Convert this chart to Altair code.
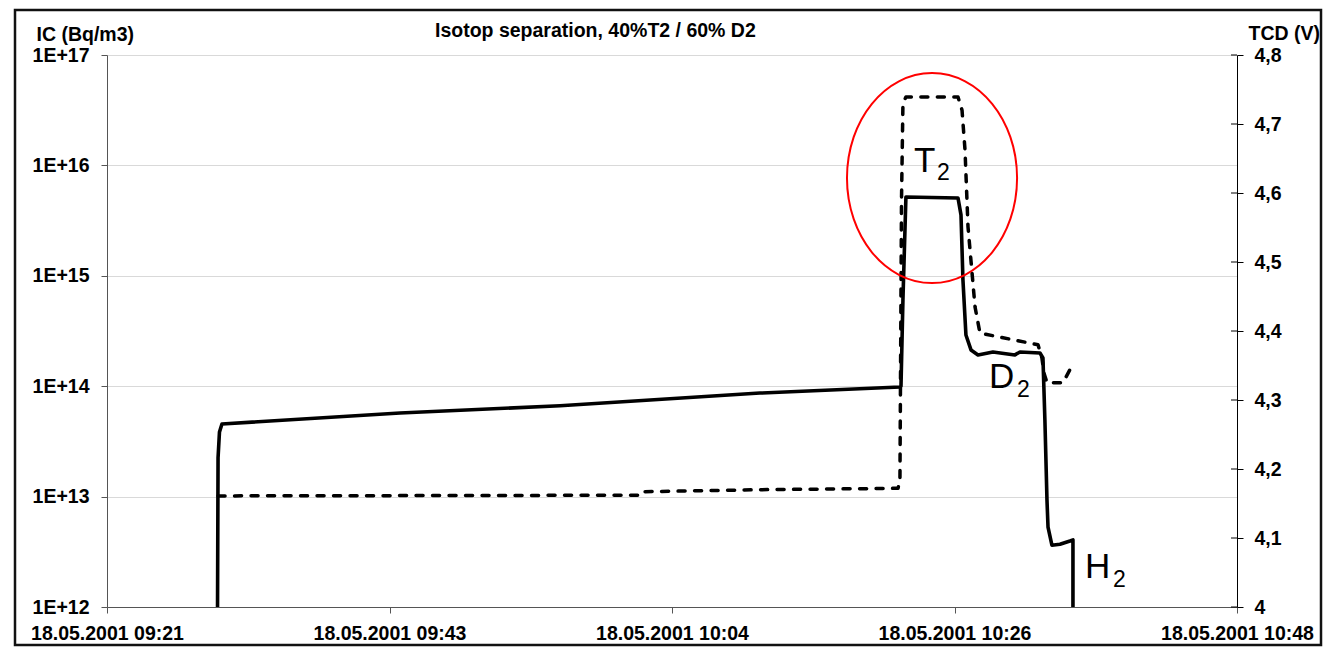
import altair as alt
import pandas as pd

# ---------------- data ----------------
TICK_MIN = [0, 21.75, 43.5, 65.25, 87]          # minutes after 09:21
TICK_LABELS = ["18.05.2001 09:21", "18.05.2001 09:43", "18.05.2001 10:04",
               "18.05.2001 10:26", "18.05.2001 10:48"]
LEFT_TICKS = [1e12, 1e13, 1e14, 1e15, 1e16, 1e17]
RIGHT_TICKS = [4.0, 4.1, 4.2, 4.3, 4.4, 4.5, 4.6, 4.7, 4.8]

# IC (Bq/m3), solid line, left log axis
IC_MIN = [8.51, 8.55, 8.66, 8.85, 22.56, 34.88, 50.27, 61.05, 61.13, 61.28, 61.51,
          65.52, 65.75, 65.90, 66.13, 66.52, 67.06, 68.21, 69.90, 70.29, 71.83,
          72.06, 72.21, 72.37, 72.45, 72.75, 73.37, 74.14, 74.37, 74.37]
IC_VAL = [1e12, 2.24e13, 3.85e13, 4.55e13, 5.71e13, 6.65e13, 8.67e13, 9.84e13, 1.0e14,
          6.04e14, 5.18e15, 5.07e15, 3.56e15, 9.2e14, 2.91e14, 2.13e14, 1.92e14,
          2.04e14, 1.92e14, 2.04e14, 2.0e14, 1.80e14, 4.94e13, 9.3e12, 5.3e12,
          3.63e12, 3.7e12, 3.96e12, 4.05e12, 1e12]

# TCD (V), dashed line, right axis
TCD_MIN = [8.55, 40.88, 41.04, 50.27, 60.90, 61.05, 61.17, 61.28, 61.51, 65.52,
           65.83, 66.06, 66.29, 66.83, 67.21, 71.68, 71.98, 72.14, 72.37, 73.60, 74.45]
TCD_VAL = [4.161, 4.162, 4.167, 4.170, 4.172, 4.184, 4.590, 4.730, 4.739, 4.739,
           4.720, 4.662, 4.551, 4.435, 4.397, 4.380, 4.361, 4.339, 4.325, 4.325, 4.355]

# annotations (positions in minutes / TCD volts)
LBL_TEXT = ["T", "D", "H"]
LBL_MIN = [62.13, 67.90, 75.30]
LBL_TCD = [4.6304, 4.3174, 4.042]
SUB_TEXT = ["2", "2", "2"]
SUB_MIN = [63.90, 70.06, 77.45]
SUB_TCD = [4.6188, 4.3043, 4.029]
ELL_MIN = [63.52]
ELL_TCD = [4.6217]

TITLE = "Isotop separation, 40%T2 / 60% D2"
LEFT_TITLE = "IC (Bq/m3)"
RIGHT_TITLE = "TCD (V)"

FONT = "Liberation Sans, Arial, Helvetica, sans-serif"
FS = 19.5
W, H = 1130, 552

ic_df = pd.DataFrame({"min": IC_MIN, "ic": IC_VAL, "i": range(len(IC_MIN))})
tcd_df = pd.DataFrame({"min": TCD_MIN, "tcd": TCD_VAL, "i": range(len(TCD_MIN))})
lbl_df = pd.DataFrame({"min": LBL_MIN, "tcd": LBL_TCD, "t": LBL_TEXT})
sub_df = pd.DataFrame({"min": SUB_MIN, "tcd": SUB_TCD, "t": SUB_TEXT})
ell_df = pd.DataFrame({"min": ELL_MIN, "tcd": ELL_TCD})
rt_df = pd.DataFrame({"tcd": RIGHT_TICKS})
one_df = pd.DataFrame({"t": [TITLE]})

# x label expression built from the tick lists
parts = []
for k in range(len(TICK_MIN) - 1):
    mid = (TICK_MIN[k] + TICK_MIN[k + 1]) / 2
    parts.append(f"datum.value < {mid} ? '{TICK_LABELS[k]}' : ")
x_expr = "".join(parts) + f"'{TICK_LABELS[-1]}'"

x_axis = alt.Axis(values=TICK_MIN, labelExpr=x_expr, title=None, grid=False,
                  tickSize=6, labelPadding=11, domainColor="#555", tickColor="#555",
                  labelFlush=False, labelOverlap=False, labelBound=False,
                  labelFontSize=FS, labelFontWeight="bold", labelColor="black",
                  labelFont=FONT)
x_enc = alt.X("min:Q", scale=alt.Scale(domain=[0, 87], nice=False, zero=False),
              axis=x_axis)

left_axis = alt.Axis(orient="left", values=LEFT_TICKS,
                     labelExpr="replace(format(datum.value, '.0e'), 'e', 'E')",
                     grid=True, gridColor="#d9d9d9", gridWidth=1,
                     tickSize=6, labelPadding=12, domainColor="#555", tickColor="#555",
                     labelFlush=False, labelFontSize=FS, labelFontWeight="bold",
                     labelColor="black", labelFont=FONT,
                     title=LEFT_TITLE, titleAngle=0, titleX=-71, titleY=-15,
                     titleAlign="left", titleBaseline="alphabetic",
                     titleFontSize=FS, titleFontWeight="bold", titleFont=FONT,
                     titleColor="black")
y_left = alt.Y("ic:Q", scale=alt.Scale(type="log", domain=[1e12, 1e17], nice=False),
               axis=left_axis)

right_axis = alt.Axis(orient="right", values=RIGHT_TICKS,
                      labelExpr="datum.value == 4 ? '4' : replace(format(datum.value, '.1f'), '.', ',')",
                      grid=False, tickSize=6, labelPadding=11,
                      domainColor="black", tickColor="black",
                      labelFlush=False, labelFontSize=FS, labelFontWeight="bold",
                      labelColor="black", labelFont=FONT,
                      title=RIGHT_TITLE, titleAngle=0, titleX=11, titleY=-16,
                      titleAlign="left", titleBaseline="alphabetic",
                      titleFontSize=FS, titleFontWeight="bold", titleFont=FONT,
                      titleColor="black")
r_scale = alt.Scale(domain=[4, 4.8], nice=False, zero=False)
y_right = alt.Y("tcd:Q", scale=r_scale, axis=right_axis)

# ---------------- left group ----------------
frame = alt.Chart(one_df).mark_rect(fill="transparent", stroke="#111",
                                    strokeWidth=2.5).encode(
    x=alt.value(-92), x2=alt.value(1214), y=alt.value(-45), y2=alt.value(590))

title = alt.Chart(one_df).mark_text(align="left", baseline="alphabetic", font=FONT,
                                    fontSize=FS, fontWeight="bold",
                                    color="black").encode(
    x=alt.value(328), y=alt.value(-18), text="t:N")

solid = alt.Chart(ic_df).mark_line(color="black", strokeWidth=3.6,
                                   strokeJoin="round", strokeCap="butt").encode(
    x=x_enc, y=y_left, order="i:Q")

left = alt.layer(frame, title, solid)

# ---------------- right group ----------------
inner_ticks = alt.Chart(rt_df).mark_rule(color="black", strokeWidth=1).encode(
    y=y_right, x=alt.value(W - 6), x2=alt.value(W))

dashed = alt.Chart(tcd_df).mark_line(color="black", strokeWidth=3.5,
                                     strokeDash=[7, 9.5], strokeCap="round",
                                     strokeJoin="round").encode(
    x=x_enc, y=y_right, order="i:Q")

a, b, ka, kb = 0.81, 1.0, 0.4474, 0.5523
ellipse_path = (f"M {a} 0 C {a} {kb}, {ka} {b}, 0 {b} C {-ka} {b}, {-a} {kb}, {-a} 0 "
                f"C {-a} {-kb}, {-ka} {-b}, 0 {-b} C {ka} {-b}, {a} {-kb}, {a} 0 Z")
ellipse = alt.Chart(ell_df).mark_point(shape=ellipse_path, size=44100, filled=False,
                                       stroke="#ff0000", strokeWidth=2,
                                       opacity=1).encode(
    x=x_enc, y=y_right)

labels = alt.Chart(lbl_df).mark_text(align="left", baseline="alphabetic", font=FONT,
                                     fontSize=35, color="black").encode(
    x=x_enc, y=y_right, text="t:N")
subs = alt.Chart(sub_df).mark_text(align="left", baseline="alphabetic", font=FONT,
                                   fontSize=23, color="black").encode(
    x=x_enc, y=y_right, text="t:N")

right = alt.layer(inner_ticks, dashed, ellipse, labels, subs)

chart = alt.layer(left, right).resolve_scale(y="independent").properties(
    width=W, height=H,
    padding={"left": 99, "top": 47, "right": 86, "bottom": 40},
    autosize=alt.AutoSizeParams(type="none"),
    background="white",
).configure_view(stroke="transparent")

chart.save("out.html", embed_options={"renderer": "svg", "actions": False})
